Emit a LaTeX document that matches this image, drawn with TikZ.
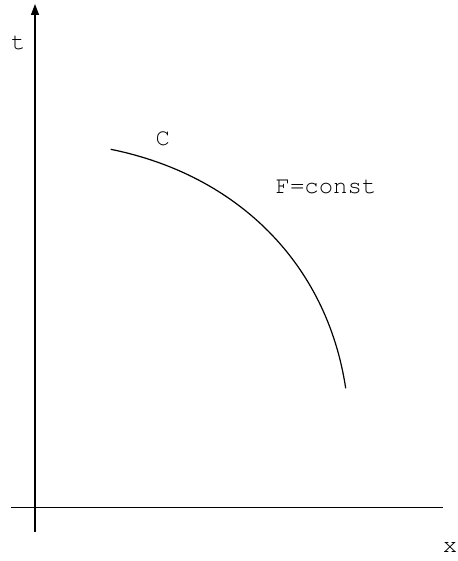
\documentclass[tikz,border=0pt]{standalone}
\usepackage[T1]{fontenc}
\usepackage{courier}
\usetikzlibrary{arrows.meta}
\begin{document}
\begin{tikzpicture}[x=1pt,y=-1pt,
  axis/.style={line width=1.2pt},
  curvestyle/.style={line width=1.2pt},
  lbl/.style={inner sep=0pt,anchor=base,font=\fontsize{24}{24}\selectfont\ttfamily}]
\useasboundingbox (0,0) rectangle (457,561);
\coordinate (vbot) at (35,531.7);
\coordinate (vtop) at (35,4);
\coordinate (hl) at (11.3,507.3);
\coordinate (hr) at (442.7,507.3);
\draw[axis,-{Triangle[length=11pt,width=8pt]}] (vbot) -- (vtop);
\draw[axis] (hl) -- (hr);
\coordinate (cs) at (110.7,149.3);
\coordinate (ce) at (345.7,388.3);
\draw[curvestyle] (cs) .. controls (238,175) and (327,264) .. (ce);
\node[lbl] (t) at (18.3,49.5) {t};
\node[lbl] (x) at (450,552.7) {x};
\node[lbl] (C) at (162.7,146) {C};
\node[lbl] (F) at (326,193.3) {F=const};
\end{tikzpicture}
\end{document}
